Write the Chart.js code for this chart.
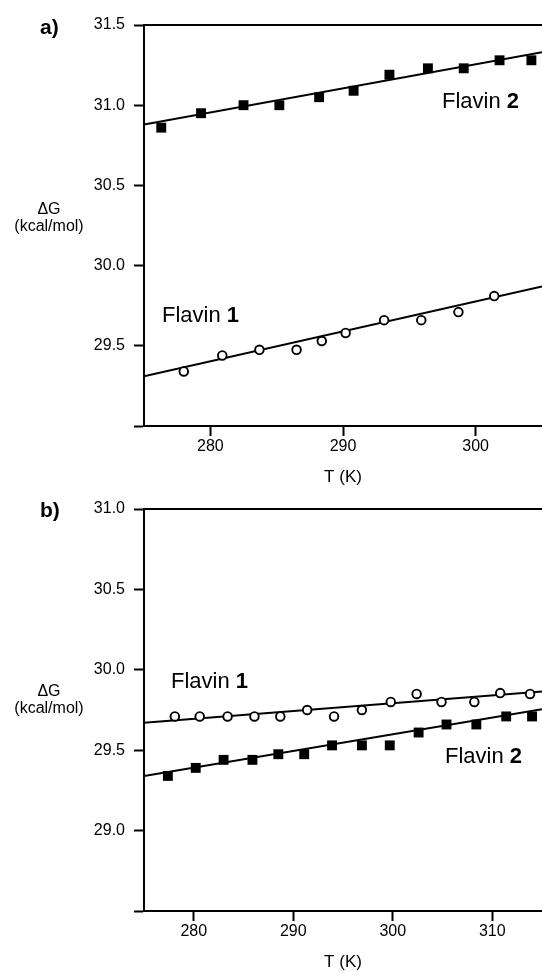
<!DOCTYPE html>
<html>
<head>
<meta charset="utf-8">
<script src="https://cdn.jsdelivr.net/npm/chart.js@4.4.0/dist/chart.umd.min.js"></script>
<style>
  body { margin: 0; background: #fff; }
  #wrap { position: relative; width: 542px; height: 971px; overflow: hidden;
          font-family: "Liberation Sans", Arial, sans-serif; color: #000; }
  canvas { position: absolute; left: 0; }
  .lbl { position: absolute; line-height: 1; white-space: nowrap; }
  .flavin { font-size: 22px; }
  .panel { font-size: 21px; font-weight: bold; }
  .ylab { font-size: 16px; line-height: 17px; width: 100px; text-align: center; left: -1px; }
</style>
</head>
<body>
<div id="wrap">
  <!-- canvases a bit wider than the window: the plots run off the right edge -->
  <canvas id="chartA" width="549" height="490" style="top:0"></canvas>
  <canvas id="chartB" width="549" height="487" style="top:484px"></canvas>

  <div class="lbl panel" style="left:40px; top:16px">a)</div>
  <div class="lbl panel" style="left:40px; top:499px">b)</div>

  <div class="lbl ylab" style="top:200px">ΔG<br>(kcal/mol)</div>
  <div class="lbl ylab" style="top:682px">ΔG<br>(kcal/mol)</div>

  <div class="lbl flavin" style="left:442px; top:90px">Flavin <b>2</b></div>
  <div class="lbl flavin" style="left:162px; top:304px">Flavin <b>1</b></div>
  <div class="lbl flavin" style="left:171px; top:670px">Flavin <b>1</b></div>
  <div class="lbl flavin" style="left:445px; top:745px">Flavin <b>2</b></div>
</div>

<script>
// panel a) - temperatures (K) and dG (kcal/mol)
const tempA2 = [276.3, 279.3, 282.5, 285.2, 288.2, 290.8, 293.5, 296.4, 299.1, 301.8, 304.2];
const dgA2 = [30.86, 30.95, 31.00, 31.00, 31.05, 31.09, 31.19, 31.23, 31.23, 31.28, 31.28];
const tempA1 = [278.0, 280.9, 283.7, 286.5, 288.4, 290.2, 293.1, 295.9, 298.7, 301.4];
const dgA1 = [29.34, 29.44, 29.475, 29.475, 29.53, 29.58, 29.66, 29.66, 29.71, 29.81];
const fitTempA = [275, 305];
const fitA2 = [30.88, 31.33];
const fitA1 = [29.31, 29.87];
const xTicksA = [280, 290, 300];
const yTicksA = [29.0, 29.5, 30.0, 30.5, 31.0, 31.5];

// panel b)
const tempB1 = [278.1, 280.6, 283.4, 286.1, 288.7, 291.4, 294.1, 296.9, 299.8, 302.4, 304.9, 308.2, 310.8, 313.8];
const dgB1 = [29.71, 29.71, 29.71, 29.71, 29.71, 29.75, 29.71, 29.75, 29.80, 29.85, 29.80, 29.80, 29.855, 29.85];
const tempB2 = [277.4, 280.2, 283.0, 285.9, 288.5, 291.1, 293.9, 296.9, 299.7, 302.6, 305.4, 308.4, 311.4, 314.0];
const dgB2 = [29.34, 29.39, 29.44, 29.44, 29.475, 29.475, 29.53, 29.53, 29.53, 29.61, 29.66, 29.66, 29.71, 29.71];
const fitTempB = [275, 315];
const fitB1 = [29.67, 29.865];
const fitB2 = [29.34, 29.755];
const xTicksB = [280, 290, 300, 310];
const yTicksB = [28.5, 29.0, 29.5, 30.0, 30.5, 31.0];

const pts = (xs, ys) => xs.map((x, i) => ({ x: x, y: ys[i] }));

const squares = (xs, ys) => ({
    data: pts(xs, ys), pointStyle: "rect", pointRadius: 7, pointBorderWidth: 0,
    backgroundColor: "#000", borderColor: "#000",
});
const circles = (xs, ys) => ({
    data: pts(xs, ys), pointStyle: "circle", pointRadius: 4.3, borderWidth: 1.9,
    backgroundColor: "#fff", borderColor: "#000",
});
const fitLine = (xs, ys) => ({
    data: pts(xs, ys), showLine: true, pointRadius: 0, borderWidth: 2, borderColor: "#000",
});

const tickFont = { family: "Liberation Sans", size: 16 };

function makeChart(id, o) {
    return new Chart(document.getElementById(id), {
        type: "scatter",
        data: { datasets: o.datasets },
        options: {
            responsive: false,
            animation: false,
            layout: { padding: { top: 25, left: 0, right: 0, bottom: 0 } },
            plugins: { legend: { display: false }, tooltip: { enabled: false } },
            scales: {
                x: {
                    type: "linear", position: "bottom", min: o.xMin, max: o.xMax,
                    afterBuildTicks: s => { s.ticks = o.xTicks.map(v => ({ value: v })); },
                    afterFit: s => { s.height = o.xHeight; },
                    ticks: { font: tickFont, color: "#000", padding: 1, maxRotation: 0, autoSkip: false },
                    grid: { drawOnChartArea: false, tickLength: 10, tickWidth: 2, tickColor: "#000" },
                    border: { color: "#000", width: 2 },
                    title: { display: true, text: "T (K)", color: "#000",
                             font: { family: "Liberation Sans", size: 17, lineHeight: 1 },
                             padding: { top: 0, bottom: o.titlePad } },
                },
                xTop: {
                    type: "linear", position: "top", min: o.xMin, max: o.xMax,
                    ticks: { display: false }, grid: { display: false },
                    border: { color: "#000", width: 2 },
                    afterFit: s => { s.height = 0; },
                },
                y: {
                    type: "linear", position: "left", min: o.yMin, max: o.yMax,
                    afterBuildTicks: s => { s.ticks = o.yTicks.map(v => ({ value: v })); },
                    afterFit: s => { s.width = 144; },
                    ticks: { font: tickFont, color: "#000", padding: 9,
                             callback: (v, i) => i === 0 ? "" : Number(v).toFixed(1) },
                    grid: { drawOnChartArea: false, tickLength: 10, tickWidth: 2, tickColor: "#000" },
                    border: { color: "#000", width: 2 },
                },
            },
        },
    });
}

makeChart("chartA", {
    datasets: [squares(tempA2, dgA2), circles(tempA1, dgA1), fitLine(fitTempA, fitA2), fitLine(fitTempA, fitA1)],
    xMin: 275, xMax: 305, xTicks: xTicksA, xHeight: 64, titlePad: 4.5,
    yMin: 29.0, yMax: 31.5, yTicks: yTicksA,
});

makeChart("chartB", {
    datasets: [circles(tempB1, dgB1), squares(tempB2, dgB2), fitLine(fitTempB, fitB1), fitLine(fitTempB, fitB2)],
    xMin: 275, xMax: 315, xTicks: xTicksB, xHeight: 60, titlePad: 0,
    yMin: 28.5, yMax: 31.0, yTicks: yTicksB,
});
</script>
</body>
</html>
